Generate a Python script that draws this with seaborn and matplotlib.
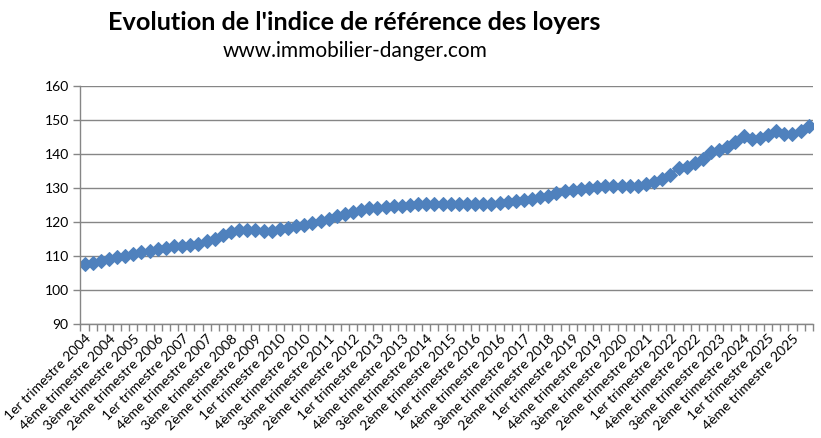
import numpy as np
import pandas as pd
import matplotlib
matplotlib.use("Agg")
import matplotlib.pyplot as plt
import seaborn as sns

# =====================================================
# DATA
# =====================================================

years = list(range(2004, 2027))
quarter_names = ["1er", "2ème", "3ème", "4ème"]

irl = [
    107.8, 108.0, 108.5, 109.0,      # 2004
    109.7, 110.0, 110.5, 111.2,      # 2005
    111.4, 112.2, 112.4, 112.9,      # 2006
    113.07, 113.37, 113.68, 114.30,  # 2007
    115.12, 116.07, 117.03, 117.54,  # 2008
    117.70, 117.59, 117.41, 117.47,  # 2009
    117.81, 118.26, 118.70, 119.17,  # 2010
    119.69, 120.31, 120.95, 121.68,  # 2011
    122.37, 122.96, 123.55, 123.97,  # 2012
    124.25, 124.44, 124.66, 124.83,  # 2013
    125.00, 125.15, 125.24, 125.29,  # 2014
    125.19, 125.25, 125.26, 125.28,  # 2015
    125.26, 125.25, 125.33, 125.50,  # 2016
    125.90, 126.19, 126.46, 126.82,  # 2017
    127.22, 127.77, 128.45, 129.03,  # 2018
    129.38, 129.72, 129.99, 130.26,  # 2019
    130.57, 130.57, 130.59, 130.52,  # 2020
    130.69, 131.12, 131.67, 132.62,  # 2021
    133.93, 135.84, 136.27, 137.26,  # 2022
    138.61, 140.59, 141.03, 142.06,  # 2023
    143.46, 145.17, 144.51, 144.64,  # 2024
    145.47, 146.68, 145.77, 145.78,  # 2025
    146.6, 148.3,                    # 2026
]

labels = []
for y in years:
    for q in quarter_names:
        labels.append(f"{q} trimestre {y}")
labels = labels[:len(irl)]

df = pd.DataFrame({"pos": np.arange(len(irl)), "irl": irl, "label": labels})

# =====================================================
# PLOT
# =====================================================

sns.set_theme(style="white")
plt.rcParams["font.family"] = ["Lato", "DejaVu Sans"]

fig = plt.figure(figsize=(8.21, 4.38), dpi=100)
ax = fig.add_axes([0.098, 0.260, 0.892, 0.544])

blue = "#4F81BD"
grid_c = "#868686"

sns.lineplot(data=df, x="pos", y="irl", ax=ax, color=blue, linewidth=2.2,
             marker="D", markersize=7, markeredgecolor=blue, markerfacecolor=blue)

ax.set_xlim(-0.5, len(irl) - 0.5)
ax.set_ylim(90, 160)
ax.set_yticks(range(90, 161, 10))
ax.yaxis.grid(True, color=grid_c, linewidth=1)
ax.set_axisbelow(True)

ax.set_xticks(df["pos"][::3])
ax.set_xticklabels(df["label"][::3], rotation=45, ha="right",
                   rotation_mode="anchor", fontsize=10, color="black")
ax.set_xticks(np.arange(-0.5, len(irl), 1), minor=True)
ax.tick_params(axis="x", which="major", length=0, pad=6)
ax.tick_params(axis="x", which="minor", length=5, color=grid_c, width=1,
               bottom=True)
ax.tick_params(axis="y", length=5, color=grid_c, width=1, left=True,
               labelsize=10, labelcolor="black")

for s in ["top", "right"]:
    ax.spines[s].set_visible(False)
for s in ["left", "bottom"]:
    ax.spines[s].set_color(grid_c)
    ax.spines[s].set_linewidth(1)

ax.set_xlabel("")
ax.set_ylabel("")

fig.text(0.432, 0.948, "Evolution de l'indice de référence des loyers",
         ha="center", va="center", fontsize=18.2, fontweight="bold",
         color="black")
fig.text(0.432, 0.884, "www.immobilier-danger.com",
         ha="center", va="center", fontsize=15, color="black")

fig.savefig("out.png", dpi=100)
